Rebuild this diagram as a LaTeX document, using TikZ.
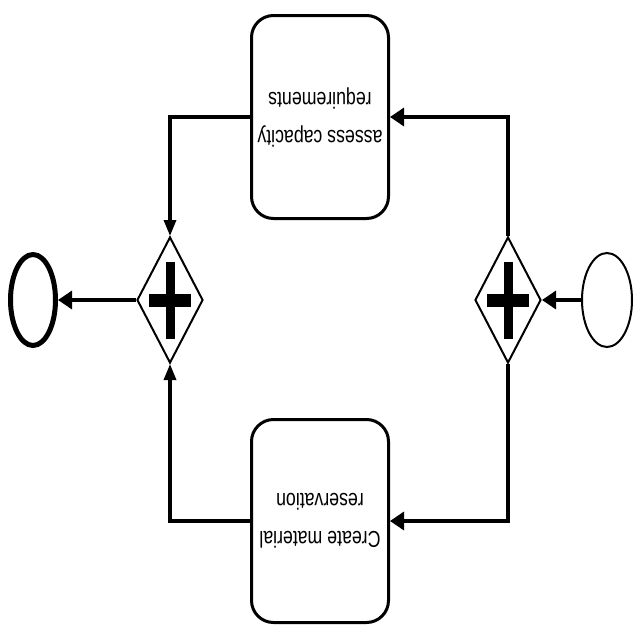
\documentclass[tikz,border=0pt]{standalone}
\usepackage{fontspec}
\newfontfamily\taskfont[FakeStretch=0.77]{Liberation Sans}
\usetikzlibrary{shapes.geometric,arrows.meta}
\begin{document}
\begin{tikzpicture}[x=1pt,y=-1pt,
  taskbox/.style={draw,line width=3pt,rounded corners=22pt,minimum width=137pt,minimum height=203pt,inner sep=0pt,
    align=center,font=\taskfont\fontsize{23pt}{38pt}\selectfont,rotate=180},
  gatebox/.style={draw,line width=2pt,diamond,minimum width=66pt,minimum height=126pt,inner sep=0pt},
  startev/.style={draw,line width=2pt,ellipse,minimum width=50pt,minimum height=94pt,inner sep=0pt},
  endev/.style={draw,line width=5pt,ellipse,minimum width=45pt,minimum height=91pt,inner sep=0pt},
  flow/.style={line width=3.3pt,-{Triangle[length=14pt,width=18pt]}},
  vflow/.style={line width=3.3pt,-{Triangle[length=16pt,width=12pt]}},
  plusbar/.style={fill=black}]
\useasboundingbox (0,0) rectangle (640,640);
\node[startev] (s) at (607,300) {};
\node[gatebox] (g1) at (508,300) {};
\node[gatebox] (g2) at (170,300) {};
\node[endev] (e) at (33,300) {};
\node[taskbox] (t1) at (320,117) {assess capacity\\requirements};
\node[taskbox] (t2) at (320,521) {Create material\\reservation};
\foreach \n in {g1,g2}{
  \fill[plusbar] ([xshift=-21pt,yshift=6.5pt]\n.center) rectangle ([xshift=21pt,yshift=-6.5pt]\n.center);
  \fill[plusbar] ([xshift=-4.5pt,yshift=38.5pt]\n.center) rectangle ([xshift=4.5pt,yshift=-38.5pt]\n.center);
}
\draw[flow] (s.west) -- (g1.east);
\draw[flow] (g1.north) |- (t1.west);
\draw[flow] (g1.south) |- (t2.west);
\draw[vflow] (t1.east) -| (g2.north);
\draw[vflow] (t2.east) -| (g2.south);
\draw[flow] (g2.west) -- (e.east);
\end{tikzpicture}
\end{document}
